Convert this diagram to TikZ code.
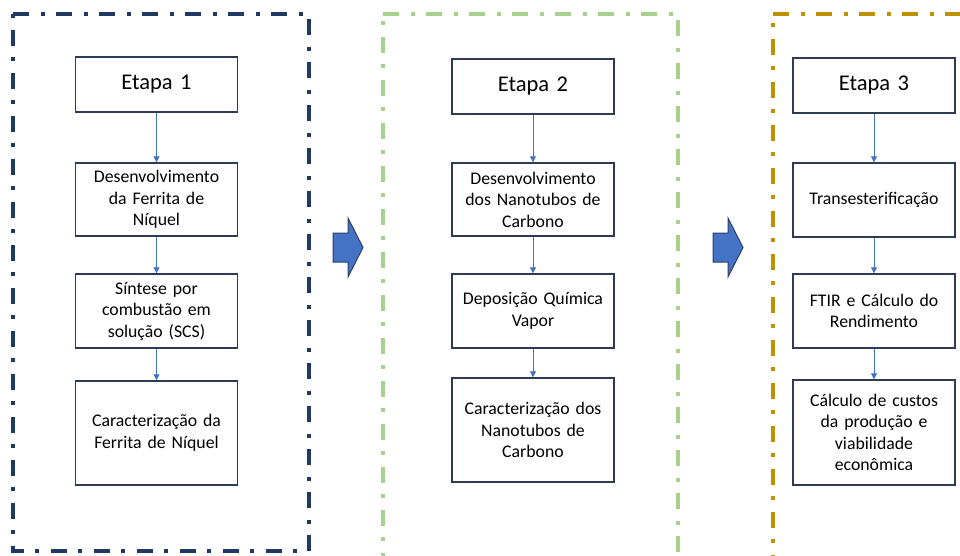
\documentclass[tikz,border=0pt]{standalone}
\usepackage{fontspec}
\setmainfont{Carlito}
\usetikzlibrary{arrows.meta}
\definecolor{framenavy}{HTML}{1F3864}
\definecolor{framegreen}{HTML}{A9D18E}
\definecolor{framegold}{HTML}{BF9000}
\definecolor{boxline}{HTML}{2E3B55}
\definecolor{flowblue}{HTML}{4472C4}
\definecolor{arrowline}{HTML}{2F3F6B}

\begin{document}
\begin{tikzpicture}[x=1pt, y=-1pt,
    box/.style={draw=boxline, line width=1.4pt, fill=white, minimum width=162pt, text width=156pt, align=center, inner sep=0pt, font=\fontsize{17.75}{21.5}\selectfont},
    stage/.style={box, minimum height=55pt, font=\fontsize{22.5}{26}\selectfont},
    flow/.style={draw=flowblue, line width=0.8pt, -{Triangle[width=6pt,length=6pt]}},
    frame/.style={line width=3.5pt, dash pattern=on 16pt off 12pt on 4pt off 11pt},
    blockarrow/.style={draw=arrowline, fill=flowblue, line width=1pt, line join=miter}]
    \clip (0,0) rectangle (960,555);
    \draw [frame, framenavy] (13,14) -- (309,14) -- (309,551) -- (13,551) -- cycle;
    \draw [frame, framegreen] (383,14) -- (678,14) -- (678,620) -- (383,620) -- cycle;
    \draw [frame, framegold] (773,14) -- (1069,14) -- (1069,620) -- (773,620) -- cycle;
    \node [stage] (e1) at (156.5, 84.5) {Etapa 1};
    \node [box, minimum height=73pt] (a1) at (156.5, 199.5) {Desenvolvimento\\da Ferrita de\\Níquel};
    \node [box, minimum height=74pt] (b1) at (156.5, 311) {Síntese por\\combustão em\\solução (SCS)};
    \node [box, minimum height=104pt] (c1) at (156.5, 433) {Caracterização da\\Ferrita de Níquel};
    \node [stage] (e2) at (533, 86.5) {Etapa 2};
    \node [box, minimum height=73pt] (a2) at (533, 199.5) {Desenvolvimento\\dos Nanotubos de\\Carbono};
    \node [box, minimum height=74pt] (b2) at (533, 311) {Deposição Química\\Vapor};
    \node [box, minimum height=104pt] (c2) at (533, 430) {Caracterização dos\\Nanotubos de\\Carbono};
    \node [stage] (e3) at (874, 85.5) {Etapa 3};
    \node [box, minimum height=74pt] (a3) at (874, 200) {Transesterificação};
    \node [box, minimum height=74pt] (b3) at (874, 311) {FTIR e Cálculo do\\Rendimento};
    \node [box, minimum height=105pt] (c3) at (874, 432.5) {Cálculo de custos\\da produção e\\viabilidade\\econômica};
    \draw [flow] (e1) to (a1);
    \draw [flow] (a1) to (b1);
    \draw [flow] (b1) to (c1);
    \draw [flow] (e2) to (a2);
    \draw [flow] (a2) to (b2);
    \draw [flow] (b2) to (c2);
    \draw [flow] (e3) to (a3);
    \draw [flow] (a3) to (b3);
    \draw [flow] (b3) to (c3);
    \draw [blockarrow] (333,233) -- (348,233) -- (348,218) -- (363,247.5) -- (348,277) -- (348,262) -- (333,262) -- cycle;
    \draw [blockarrow] (713,233) -- (728,233) -- (728,218) -- (743,247.5) -- (728,277) -- (728,262) -- (713,262) -- cycle;
\end{tikzpicture}
\end{document}
